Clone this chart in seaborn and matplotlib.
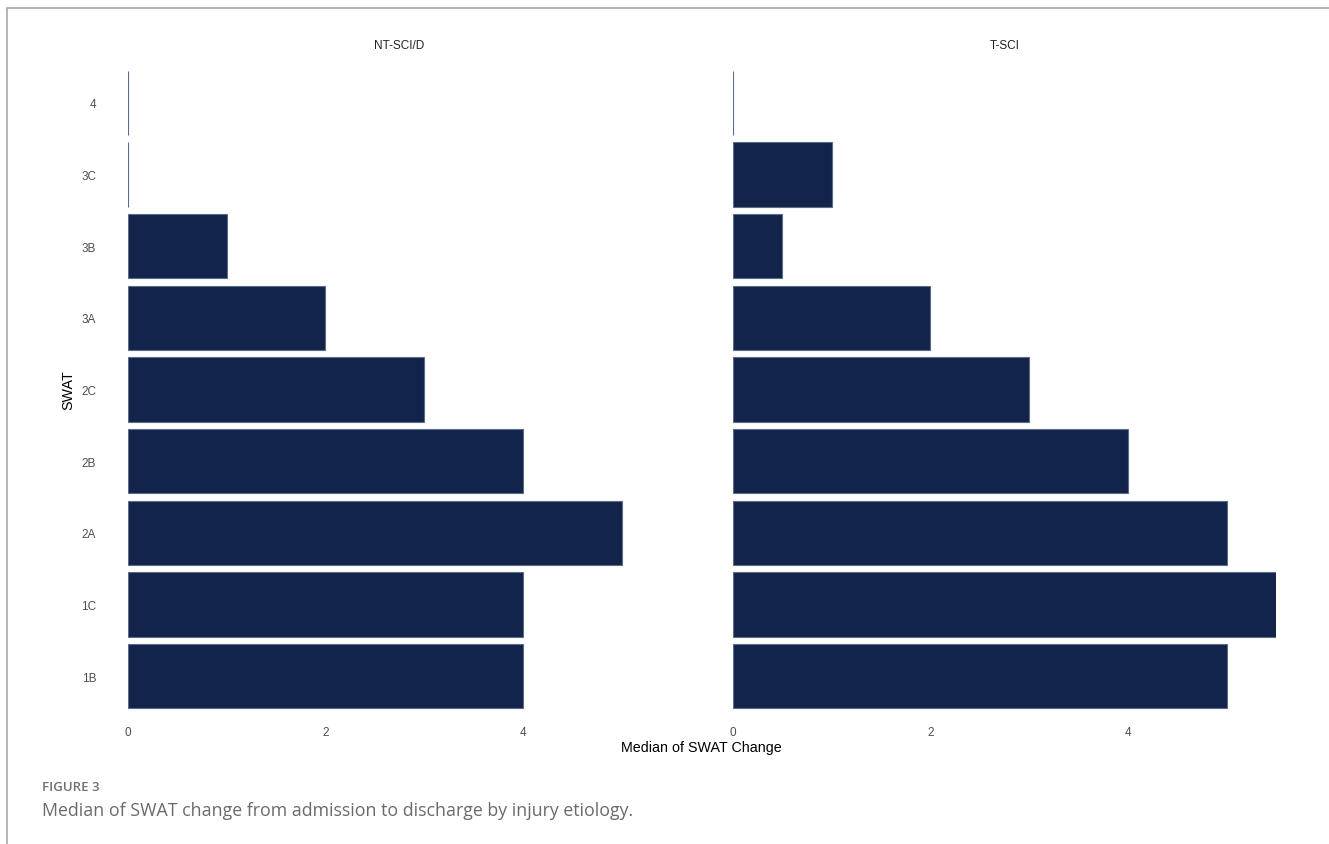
import matplotlib
matplotlib.use("Agg")
import matplotlib.pyplot as plt
from matplotlib.lines import Line2D
import pandas as pd
import seaborn as sns

# SWAT levels, top to bottom
swat_levels = ["4", "3C", "3B", "3A", "2C", "2B", "2A", "1C", "1B"]
etiologies = ["NT-SCI/D", "T-SCI"]

# Median SWAT change per level
nt_sci_median = [0, 0, 1, 2, 3, 4, 5, 4, 4]
t_sci_median = [0, 1, 0.5, 2, 3, 4, 5, 5.5, 5]

x_ticks = [0, 2, 4]

df = pd.DataFrame({
    "SWAT": swat_levels * 2,
    "Etiology": [etiologies[0]] * len(swat_levels) + [etiologies[1]] * len(swat_levels),
    "Median": nt_sci_median + t_sci_median,
})

sns.set_theme(style="white")
plt.rcParams["font.family"] = ["Liberation Sans", "DejaVu Sans"]

fig = plt.figure(figsize=(13.29, 8.45), dpi=100)
fig.patch.set_facecolor("white")

bar_color = "#13244a"
edge_color = "#5b6b88"

positions = [
    [128 / 1329, 1 - 713 / 845, 543 / 1329, 645 / 845],
    [733 / 1329, 1 - 713 / 845, 543 / 1329, 645 / 845],
]

for pos, etio in zip(positions, etiologies):
    ax = fig.add_axes(pos)
    sub = df[df["Etiology"] == etio]
    sns.barplot(data=sub, x="Median", y="SWAT", order=swat_levels, color=bar_color,
                width=0.9, edgecolor=edge_color, linewidth=0.8, saturation=1, ax=ax)
    ax.set_xlim(0, 5.5)
    ax.set_xticks(x_ticks)
    ax.set_xticklabels([str(t) for t in x_ticks])
    ax.tick_params(axis="both", length=0, labelsize=8.5, labelcolor="#4d4d4d", pad=10)
    for s in ax.spines.values():
        s.set_visible(False)
    ax.set_xlabel("")
    ax.set_ylabel("")
    ax.set_title(etio, fontsize=8.5, color="#222222", pad=14)
    if etio != etiologies[0]:
        ax.set_yticklabels([])
        ax.tick_params(axis="y", left=False, labelleft=False)
    else:
        ax.tick_params(axis="y", pad=23)

fig.text(68 / 1329, 1 - 390 / 845, "SWAT", rotation=90, ha="center", va="center",
         fontsize=10.3, color="black")
fig.text(701 / 1329, 1 - 748 / 845, "Median of SWAT Change", ha="center", va="center",
         fontsize=10.3, color="black")

# Caption
fig.text(42 / 1329, 1 - 788 / 845, "FIGURE 3", ha="left", va="center",
         fontsize=9.5, color="#707070", family=["Open Sans", "DejaVu Sans"], fontweight="semibold")
fig.text(42 / 1329, 1 - 811 / 845,
         "Median of SWAT change from admission to discharge by injury etiology.",
         ha="left", va="center", fontsize=12.8, color="#6a6a6a",
         family=["Open Sans", "DejaVu Sans"])

# Frame lines
fig.add_artist(Line2D([7 / 1329, 1], [1 - 9 / 845, 1 - 9 / 845], color="#a8a8a8", lw=1.2,
                      transform=fig.transFigure))
fig.add_artist(Line2D([7 / 1329, 7 / 1329], [0, 1 - 9 / 845], color="#a8a8a8", lw=1.2,
                      transform=fig.transFigure))

fig.savefig("out.png", dpi=100, facecolor="white")
